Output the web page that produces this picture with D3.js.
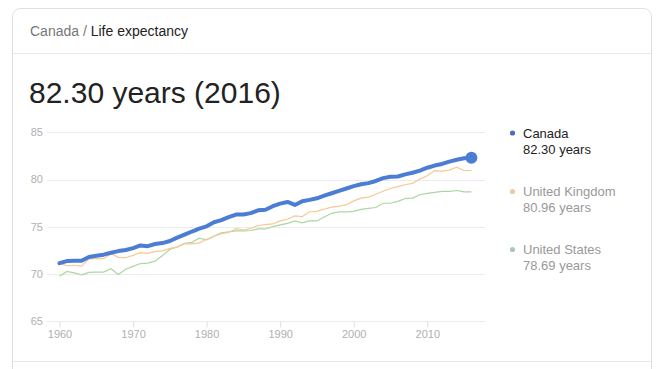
<!DOCTYPE html>
<html><head><meta charset="utf-8">
<script src="https://cdn.jsdelivr.net/npm/d3@7/dist/d3.min.js"></script>
<style>
html,body{margin:0;padding:0;background:#fff;}
svg{display:block;font-family:"Liberation Sans",Arial,sans-serif;}
</style></head>
<body><svg id="c" width="668" height="369"></svg>
<script>
const years = d3.range(1960, 2017);
const canada = [71.15,71.37,71.40,71.41,71.80,71.93,72.05,72.25,72.43,72.55,72.75,73.03,72.95,73.18,73.28,73.50,73.85,74.17,74.50,74.80,75.05,75.48,75.70,76.03,76.30,76.30,76.45,76.75,76.80,77.18,77.45,77.63,77.31,77.70,77.85,78.02,78.30,78.55,78.80,79.05,79.30,79.50,79.62,79.85,80.15,80.30,80.32,80.55,80.72,80.95,81.25,81.48,81.65,81.90,82.10,82.25,82.30];
const uk = [71.13,70.88,70.93,70.83,71.61,71.63,71.63,72.16,71.77,71.73,71.97,72.27,72.19,72.37,72.45,72.71,72.84,73.22,73.20,73.30,73.68,74.00,74.27,74.40,74.80,74.66,74.83,75.14,75.24,75.30,75.63,75.80,76.16,76.08,76.59,76.64,76.88,77.09,77.19,77.34,77.74,78.04,78.14,78.45,78.76,79.05,79.25,79.45,79.60,80.05,80.40,80.95,80.90,81.00,81.30,80.96,80.96];
const us = [69.77,70.27,70.12,69.92,70.17,70.21,70.21,70.56,69.95,70.51,70.81,71.11,71.16,71.36,71.96,72.60,72.86,73.26,73.36,73.80,73.61,74.01,74.36,74.46,74.56,74.56,74.61,74.77,74.77,75.02,75.21,75.37,75.62,75.42,75.62,75.62,76.03,76.43,76.58,76.58,76.64,76.84,76.94,77.04,77.49,77.49,77.69,77.99,78.04,78.39,78.54,78.64,78.74,78.74,78.84,78.69,78.69];
const seriesNames = ["Canada","United Kingdom","United States"];
const seriesLabels = ["82.30 years","80.96 years","78.69 years"];
const yTicks = [65,70,75,80,85];
const xTicks = [1960,1970,1980,1990,2000,2010];

const svg = d3.select("#c");
// card
svg.append("rect").attr("x",12.5).attr("y",8.5).attr("width",639).attr("height",380)
  .attr("rx",8).attr("fill","#fff").attr("stroke","#dfdfdf");
svg.append("line").attr("x1",13).attr("x2",651).attr("y1",53.5).attr("y2",53.5).attr("stroke","#e8e8e8");
svg.append("line").attr("x1",13).attr("x2",651).attr("y1",361.5).attr("y2",361.5).attr("stroke","#e8e8e8");

const hdr = svg.append("text").attr("x",30).attr("y",36).attr("font-size",14);
hdr.append("tspan").attr("fill","#777").text("Canada / ");
hdr.append("tspan").attr("fill","#222").text("Life expectancy");

svg.append("text").attr("x",29).attr("y",103).attr("font-size",30).attr("fill","#222")
  .text("82.30 years (2016)");

const x = d3.scaleLinear().domain([1960,2016]).range([59.5,471.4]);
const y = d3.scaleLinear().domain([65,85]).range([321.3,132.3]);

// grid
svg.append("g").selectAll("line").data(yTicks).join("line")
  .attr("x1",47).attr("x2",485).attr("y1",d=>Math.round(y(d))+0.5).attr("y2",d=>Math.round(y(d))+0.5)
  .attr("stroke","#ececec");
svg.append("g").selectAll("text").data(yTicks).join("text")
  .attr("x",43).attr("y",d=>y(d)).attr("dy","0.35em").attr("text-anchor","end")
  .attr("font-size",11).attr("fill","#b0b0b0").text(d=>d);

// x axis
const xa = svg.append("g").attr("transform",`translate(0,${Math.round(y(65))+0.5})`)
  .call(d3.axisBottom(x).tickValues(xTicks).tickFormat(d3.format("d")).tickSize(6).tickPadding(3));
xa.select(".domain").remove();
xa.selectAll("line").attr("stroke","#e0e0e0");
xa.selectAll("text").attr("font-size",11).attr("fill","#b0b0b0").attr("font-family","Liberation Sans, Arial, sans-serif");

const line = d3.line().x((d,i)=>x(years[i])).y(d=>y(d)).curve(d3.curveLinear);
svg.append("path").datum(us).attr("d",line).attr("fill","none").attr("stroke","#acd6a4").attr("stroke-width",1.2);
svg.append("path").datum(uk).attr("d",line).attr("fill","none").attr("stroke","#f6c895").attr("stroke-width",1.2);
svg.append("path").datum(canada).attr("d",line).attr("fill","none").attr("stroke","#4a7dd3").attr("stroke-width",4)
  .attr("stroke-linejoin","round").attr("stroke-linecap","round");
svg.append("circle").attr("cx",x(2016)).attr("cy",y(canada[canada.length-1])).attr("r",6).attr("fill","#4a7dd3");

// legend
const legDot = ["#4a70c0","#ecc9a0","#a9c9b8"];
const legName = ["#222","#999","#999"];
const legY = [133,191.5,249.5];
const lg = svg.append("g").selectAll("g").data(seriesNames).join("g")
  .attr("transform",(d,i)=>`translate(0,${legY[i]})`);
lg.append("circle").attr("cx",512.5).attr("cy",0).attr("r",2.6).attr("fill",(d,i)=>legDot[i]);
lg.append("text").attr("x",523).attr("y",0).attr("dy","0.35em").attr("font-size",13)
  .attr("fill",(d,i)=>legName[i]).text(d=>d);
lg.append("text").attr("x",523).attr("y",16).attr("dy","0.35em").attr("font-size",13)
  .attr("fill",(d,i)=>legName[i]).text((d,i)=>seriesLabels[i]);
</script></body></html>
